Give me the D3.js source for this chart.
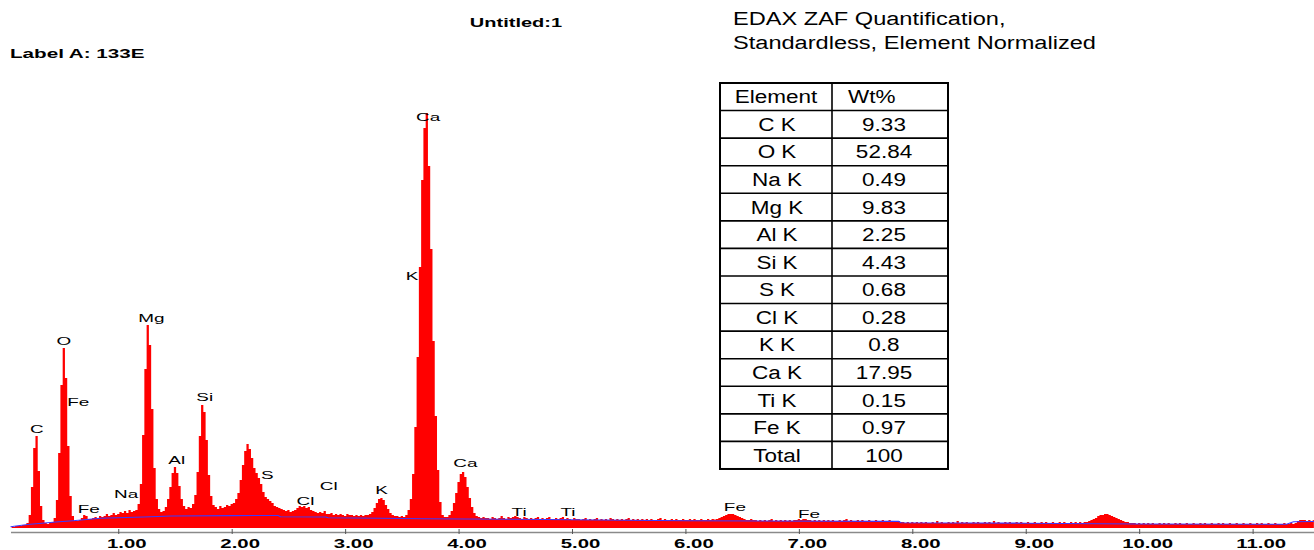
<!DOCTYPE html>
<html><head><meta charset="utf-8">
<script src="https://cdn.jsdelivr.net/npm/d3@7"></script>
<style>html,body{margin:0;padding:0;background:#fff;} svg{display:block;}</style>
</head><body><svg id="c" width="1314" height="550"></svg>
<script>
// ---------------- DATA ----------------
// EDS spectrum: channel counts, channels of 0.02 keV starting at 0.06 keV
const channelStart = 0.06;
const channelWidth = 0.02;
const spectrumCounts = [
  1,1,2,2,2,3,3,5,13,41,            // 0.06-0.24
  80,92,57,22,8,5,4,5,6,10,         // 0.26-0.44
  28,75,143,180,150,82,32,12,7,7,   // 0.46-0.64
  8,10,13,12,9,9,10,11,10,12,       // 0.66-0.84
  11,12,14,12,13,15,13,14,16,15,    // 0.86-1.04
  17,15,18,16,17,18,24,44,93,159,   // 1.06-1.24
  203,183,119,60,29,19,16,17,21,29, // 1.26-1.44
  41,55,61,55,42,29,22,19,21,20,    // 1.46-1.64
  24,33,56,92,123,116,88,53,32,23,  // 1.66-1.84
  21,19,22,20,21,23,22,24,25,29,    // 1.86-2.04
  35,48,63,77,84,79,70,60,55,50,    // 2.06-2.24
  44,36,31,29,27,25,22,21,20,19,    // 2.26-2.44
  18,17,18,16,17,18,20,22,21,22,    // 2.46-2.64
  20,21,18,17,16,15,16,15,17,14,    // 2.66-2.84
  14,15,13,14,13,14,13,12,14,13,    // 2.86-3.04
  13,12,13,12,13,12,13,13,14,16,    // 3.06-3.24
  20,25,29,30,28,23,19,15,13,12,    // 3.26-3.44
  12,11,12,11,13,18,29,54,101,171,  // 3.46-3.64
  261,348,400,415,362,279,187,112,58,26, // 3.66-3.84
  13,11,11,13,17,25,35,46,54,56,    // 3.86-4.04
  51,41,30,21,15,12,11,10,11,10,    // 4.06-4.24
  10,9,11,10,9,10,12,10,9,11,       // 4.26-4.44
  10,11,12,11,10,9,11,10,9,10,      // 4.46-4.64
  9,10,11,9,10,9,10,11,9,9,         // 4.66-4.84
  10,9,10,11,9,10,9,8,10,9,         // 4.86-5.04
  9,8,9,10,8,9,8,9,10,8,            // 5.06-5.24
  9,8,9,8,10,9,8,9,8,9,             // 5.26-5.44
  8,9,10,8,9,8,9,8,9,8,             // 5.46-5.64
  9,8,9,8,8,9,10,8,9,8,             // 5.66-5.84
  8,9,8,9,8,8,9,8,8,9,              // 5.86-6.04
  8,9,8,8,9,8,8,9,8,9,              // 6.06-6.24
  8.5,9,10,11,12,13,14,14,14,13,    // 6.26-6.44
  12,11,10,9,8,8,9,8,8,7,           // 6.46-6.64
  8,7,8,7,8,9,7,8,7,8,              // 6.66-6.84
  7,8,7,8,7,8,8,9,8,9,              // 6.86-7.04
  9,8,8,7,8,7,8,7,8,7,              // 7.06-7.24
  8,7,8,7,7,8,7,8,9,7,              // 7.26-7.44
  8,7,7,8,7,8,7,7,8,7,              // 7.46-7.64
  7,8,7,7,8,7,7,8,7,7,              // 7.66-7.84
  7,7,6,6,5,6,5,6,5,6,              // 7.86-8.04
  5,6,5,6,5,5,6,5,7,5,              // 8.06-8.24
  6,5,5,6,5,6,5,7,5,6,              // 8.26-8.44
  5,6,5,5,6,5,6,5,5,6,              // 8.46-8.64
  5,6,5,7,5,6,5,5,6,5,              // 8.66-8.84
  6,5,5,6,5,6,5,5,6,5,              // 8.86-9.04
  5,6,5,5,6,5,6,5,5,6,              // 9.06-9.24
  5,5,6,5,6,5,5,6,5,6,              // 9.26-9.44
  5,6,5,6,6,7,8,9,10,12,            // 9.46-9.64
  13,13,14,14,13,12,11,10,9,8,      // 9.66-9.84
  7,6,6,5,5,5,4,5,4,5,              // 9.86-10.04
  4,5,4,5,4,4,5,4,5,4,              // 10.06-10.24
  5,4,4,5,4,5,4,4,5,4,              // 10.26-10.44
  4,5,4,4,5,4,5,4,4,5,              // 10.46-10.64
  4,4,5,4,5,4,4,5,4,4,              // 10.66-10.84
  5,4,4,5,4,4,5,4,4,5,              // 10.86-11.04
  4,5,4,4,5,4,4,5,4,4,              // 11.06-11.24
  4,5,4,4,5,4,5,7,8,8,              // 11.26-11.44
  8,7,8,7,8                         // 11.46-11.54
];

// background fit (blue line)
const bgEnergy = [0.05, 0.2, 0.45, 0.6, 0.84, 1.22, 1.47, 2.01, 2.41, 2.43, 2.83, 2.85, 3.3, 3.7, 4.5, 6.0, 7.88, 7.9, 9.0, 10.0, 11.3, 11.36, 11.55];
const bgCounts = [1.3, 3.5, 6, 7.3, 9.7, 11, 12, 12.4, 12.5, 11.3, 11, 10.3, 9.7, 9.2, 8.7, 7.3, 6.6, 5.3, 4.8, 4, 3.8, 6.3, 6.5];

// peak labels
const peakLabels = ["C","O","Fe","Fe","Na","Mg","Al","Si","S","Cl","Cl","K","Ca","K","Ca","Ti","Ti","Fe","Fe"];
const peakLabelEnergy = [0.283,0.521,0.647,0.740,1.070,1.291,1.515,1.762,2.313,2.650,2.855,3.322,3.732,3.591,4.060,4.534,4.964,6.436,7.090];
const peakLabelCount = [99.5,187.5,126,19.3,33.7,210,68,131.3,52.7,27.2,41.8,38.5,411,252.5,65.5,16.3,16.3,21,14.5];

// x axis ticks (keV)
const tickValues = [1,2,3,4,5,6,7,8,9,10,11];

// quantification table
const tableElements = ["C K","O K","Na K","Mg K","Al K","Si K","S K","Cl K","K K","Ca K","Ti K","Fe K"];
const tableWt = [9.33,52.84,0.49,9.83,2.25,4.43,0.68,0.28,0.8,17.95,0.15,0.97];
const totalLabel = "Total";
const totalWt = 100;

const titleText = "Untitled:1";
const sampleLabel = "Label A: 133E";
const quantTitle = ["EDAX ZAF Quantification,", "Standardless, Element Normalized"];

// ---------------- DRAW ----------------
const W = 1314, H = 550;
const FONT = "'Liberation Sans', Arial, Helvetica, sans-serif";
const svg = d3.select("#c");
svg.append("rect").attr("width", W).attr("height", H).attr("fill", "#fff");

const x = d3.scaleLinear().domain([0.05, 11.55]).range([10.5, 1315]);
const y = d3.scaleLinear().domain([0, 400]).range([528, 128]);

function stext(parent, str, px, py, o) {
  return parent.append("text")
    .attr("transform", `translate(${px},${py}) scale(${o.sx || 1},1)`)
    .attr("text-anchor", o.anchor || "middle")
    .attr("font-family", FONT)
    .attr("font-size", o.size || 12)
    .attr("font-weight", o.weight || "normal")
    .attr("fill", "#000")
    .text(str);
}

svg.append("clipPath").attr("id", "plotclip")
  .append("rect").attr("x", 10).attr("y", 0).attr("width", 1304).attr("height", 528.5);

const spec = spectrumCounts.map((c, i) => ({ e: channelStart + i * channelWidth, c }));
const area = d3.area()
  .x(d => x(d.e))
  .y0(y(0))
  .y1(d => y(d.c))
  .curve(d3.curveStep);

const plot = svg.append("g").attr("clip-path", "url(#plotclip)");
plot.append("path").datum(spec).attr("d", area).attr("fill", "#ff0000");

const bg = bgEnergy.map((e, i) => ({ e, c: bgCounts[i] }));
plot.append("path").datum(bg)
  .attr("d", d3.line().x(d => x(d.e)).y(d => y(d.c)))
  .attr("fill", "none").attr("stroke", "#3a3aff").attr("stroke-width", 1.1);

// axis
const axis = d3.axisBottom(x).tickValues(tickValues).tickFormat(d3.format(".2f"))
  .tickSizeInner(4).tickSizeOuter(0);
const gx = svg.append("g").attr("transform", "translate(0,532)").call(axis);
gx.select(".domain").attr("stroke", "#8a8a8a").attr("stroke-width", 1.6);
gx.selectAll(".tick line").attr("y1", -3).attr("y2", 2).attr("stroke", "#555");
gx.selectAll(".tick text")
  .attr("y", null).attr("dy", null)
  .attr("transform", "translate(8,15.5) scale(1.7,1)")
  .attr("font-family", FONT).attr("font-weight", "bold").attr("font-size", 12)
  .attr("fill", "#000");

// peak labels
const gl = svg.append("g");
peakLabels.forEach((t, i) => {
  stext(gl, t, x(peakLabelEnergy[i]), y(peakLabelCount[i]) + 4, { size: 11, sx: 1.72 });
});

// titles
stext(svg, titleText, 516, 26.5, { size: 12, weight: "bold", sx: 1.67 });
stext(svg, sampleLabel, 10, 57.5, { size: 12, weight: "bold", sx: 1.72, anchor: "start" });
stext(svg, quantTitle[0], 733, 24.5, { size: 18, sx: 1.31, anchor: "start" });
stext(svg, quantTitle[1], 733, 48.5, { size: 18, sx: 1.31, anchor: "start" });

// table
const tLeft = 720, tRight = 948, tDiv = 832, tTop = 83, rowH = 27.57;
const nRows = tableElements.length + 2;
const gt = svg.append("g");
for (let k = 1; k < nRows; k++) {
  gt.append("line").attr("x1", tLeft).attr("x2", tRight)
    .attr("y1", tTop + k * rowH).attr("y2", tTop + k * rowH)
    .attr("stroke", "#000").attr("stroke-width", 1.6);
}
gt.append("line").attr("x1", tDiv).attr("x2", tDiv).attr("y1", tTop).attr("y2", tTop + nRows * rowH)
  .attr("stroke", "#000").attr("stroke-width", 1.6);
gt.append("rect").attr("x", tLeft).attr("y", tTop).attr("width", tRight - tLeft).attr("height", nRows * rowH)
  .attr("fill", "none").attr("stroke", "#000").attr("stroke-width", 2);

const rowBase = k => tTop + rowH * (k + 0.5) + 6.5;
stext(gt, "Element", 776, rowBase(0), { size: 18, sx: 1.25 });
stext(gt, "Wt%", 848, rowBase(0), { size: 18, sx: 1.25, anchor: "start" });
tableElements.forEach((el, i) => {
  stext(gt, el, 777, rowBase(i + 1), { size: 18, sx: 1.25 });
  stext(gt, String(tableWt[i]), 884, rowBase(i + 1), { size: 18, sx: 1.25 });
});
stext(gt, totalLabel, 777, rowBase(nRows - 1), { size: 18, sx: 1.25 });
stext(gt, String(totalWt), 884, rowBase(nRows - 1), { size: 18, sx: 1.25 });
</script>
</body></html>
